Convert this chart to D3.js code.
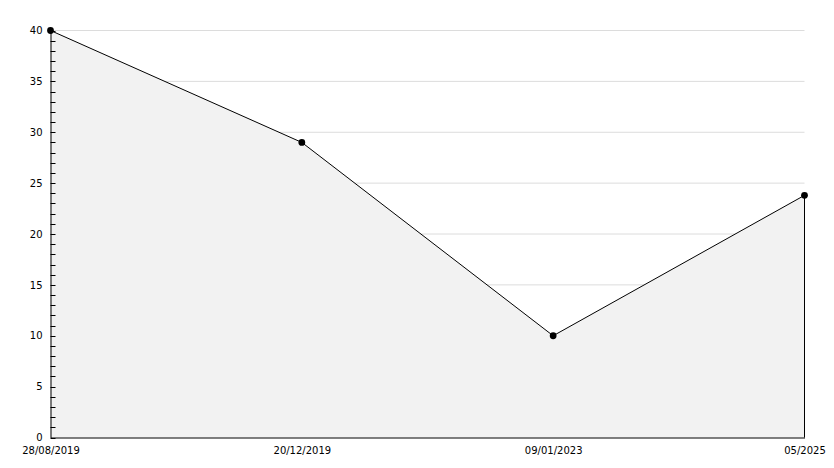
<!DOCTYPE html>
<html><head><meta charset="utf-8">
<script src="https://cdn.jsdelivr.net/npm/d3@7"></script>
<style>body{margin:0;background:#fff}svg{display:block}</style>
</head><body>
<svg id="c" width="834" height="468"></svg>
<script>
const categories = ["28/08/2019", "20/12/2019", "09/01/2023", "05/2025"];
const values = [40, 29, 10, 23.8];
const yTicks = [0, 5, 10, 15, 20, 25, 30, 35, 40];

const svg = d3.select("#c");
const L = 50.5, R = 804.5, T = 30.5, B = 437.5;
const x = d3.scalePoint().domain(categories).range([L, R]);
const y = d3.scaleLinear().domain([0, 40]).range([B, T]);
const font = "DejaVu Sans, Verdana, sans-serif";

// gridlines
svg.append("g").selectAll("line").data(yTicks.filter(d => d > 0)).join("line")
  .attr("x1", L).attr("x2", R).attr("y1", d => y(d)).attr("y2", d => y(d))
  .attr("stroke", "#dcdcdc").attr("stroke-width", 1);

const data = categories.map((c, i) => ({c, v: values[i]}));
// area
svg.append("path").datum(data)
  .attr("d", d3.area().x(d => x(d.c)).y0(B).y1(d => y(d.v)))
  .attr("fill", "#f2f2f2").attr("stroke", "none");
// right edge line
svg.append("line").attr("x1", R).attr("x2", R).attr("y1", y(values[values.length-1])).attr("y2", B)
  .attr("stroke", "#000");
// line
svg.append("path").datum(data)
  .attr("d", d3.line().x(d => x(d.c)).y(d => y(d.v)))
  .attr("fill", "none").attr("stroke", "#000").attr("stroke-width", 1);

// y axis
const yAxis = d3.axisLeft(y).tickValues(yTicks).tickSize(0).tickPadding(8);
const gy = svg.append("g").attr("transform", `translate(${L},0)`).call(yAxis);
gy.select(".domain").attr("stroke", "#000");
gy.selectAll("text").attr("font-family", font).attr("font-size", 10).attr("fill", "#000");
// ticks inward (major + minor)
const minor = d3.range(0, 41, 1);
svg.append("g").selectAll("line").data(minor).join("line")
  .attr("x1", L).attr("x2", d => L + 5).attr("y1", d => Math.round(y(d)) + 0.5).attr("y2", d => Math.round(y(d)) + 0.5)
  .attr("stroke", "#000");

// x axis
const xAxis = d3.axisBottom(x).tickSize(0).tickPadding(9);
const gx = svg.append("g").attr("transform", `translate(0,${B})`).call(xAxis);
gx.select(".domain").attr("stroke", "#000");
gx.selectAll("text").attr("font-family", font).attr("font-size", 10).attr("fill", "#000");

// markers
svg.append("g").selectAll("path").data(data).join("path")
  .attr("transform", d => `translate(${x(d.c)},${y(d.v)})`)
  .attr("d", d3.symbol().type(d3.symbolCircle).size(36))
  .attr("fill", "#000");
</script>
</body></html>
